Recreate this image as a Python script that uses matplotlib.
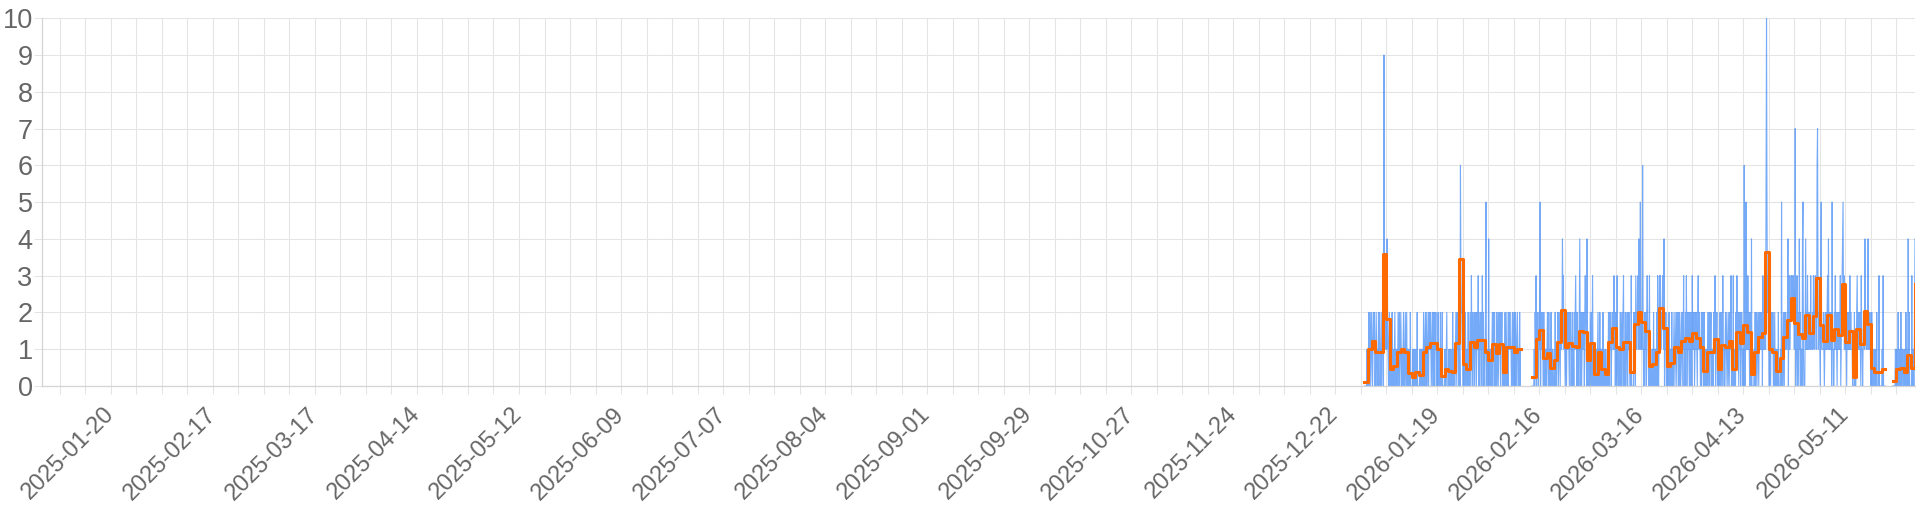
import numpy as np
import pandas as pd
import matplotlib
matplotlib.use('Agg')
import matplotlib.pyplot as plt

plt.rcParams['font.family'] = ['Liberation Sans', 'DejaVu Sans']

# x range of the chart
x_start = '2025-01-01'
x_end = '2026-05-30 03:00'
first_day = '2025-12-30'

# daily average (orange step line), one value per day from first_day, None = no data
daily_avg = [
    0.12, 1.0, 1.23, 0.92, 0.92, 3.6, 1.82, 0.46, 0.54, 0.92,
    1.0, 0.93, 0.34, 0.25, 0.37, 0.3, 0.92, 1.07, 1.16, 1.16,
    1.0, 0.28, 0.46, 0.42, 0.39, 1.18, 3.45, 0.59, 0.46, 1.2,
    1.07, 1.25, 1.25, 0.92, 0.71, 1.13, 0.89, 1.13, 0.37, 1.07,
    1.05, 0.93, 1.0, None, None, None, 0.25, 1.28, 1.52, 0.75,
    0.89, 0.5, 0.71, 1.19, 2.07, 1.05, 1.16, 1.09, 1.07, 1.5,
    1.46, 0.71, 1.16, 0.33, 0.92, 0.46, 0.33, 1.19, 1.59, 1.07,
    1.0, 1.2, 1.2, 0.37, 1.68, 2.0, 1.75, 1.5, 0.54, 0.59,
    0.93, 2.13, 1.57, 0.54, 0.63, 1.05, 0.92, 1.23, 1.3, 1.23,
    1.43, 1.31, 1.07, 0.42, 0.93, 0.93, 1.27, 0.46, 1.12, 1.07,
    1.22, 0.45, 1.48, 1.16, 1.66, 1.48, 0.33, 0.93, 1.34, 1.43,
    3.64, 1.0, 0.93, 0.42, 0.75, 1.34, 1.8, 2.38, 1.7, 1.41,
    1.3, 1.93, 1.43, 1.9, 2.95, 1.66, 1.22, 1.93, 1.25, 1.55,
    1.39, 2.77, 1.19, 1.5, 0.25, 1.55, 1.13, 2.05, 1.69, 0.48,
    0.37, 0.37, 0.46, None, None, 0.14, 0.45, 0.5, 0.37, 0.83,
    0.5, 2.77,
]

# raw readings (blue line), every 3 hours, one string per day (hex digit per reading)
readings_3h = [
    "00000010", "10201201", "21012120", "01210102", "12001201", "12094212", "21421012", "01000201", "00120100", "10210201",
    "21010120", "01201201", "00100200", "00010010", "01002000", "00100100", "10210120", "21012021", "12101220", "21021201",
    "10201102", "00020000", "01001200", "00101010", "00200100", "12102120", "21063221", "10200120", "01002010", "21031201",
    "12011201", "21302102", "12031201", "01250100", "04001010", "12021201", "10201201", "21102120", "00100200", "12010212",
    "21101202", "10202101", "21010201", "", "", "", "00000102", "13021201", "12502121", "10201101",
    "01210201", "00200100", "01020101", "12012102", "21242312", "10210212", "21021201", "12010212", "31202010", "24102012",
    "12202321", "04010100", "21020310", "00100100", "12010201", "01002010", "00100010", "21021201", "12213120", "21031001",
    "10202102", "23010201", "12021210", "00300000", "21203212", "23142151", "12162010", "21202321", "00300100", "01020101",
    "10203101", "32312223", "21402120", "01000201", "10020101", "21012102", "12002101", "21021301", "12031201", "21202120",
    "31212012", "12102311", "21010212", "00200100", "10210201", "12010102", "21301120", "01000200", "21031101", "12012101",
    "20121301", "00301000", "21312102", "12012201", "10620151", "21312102", "00400000", "10201201", "21021211", "12031211",
    "216a5231", "10210211", "12001201", "00100200", "00105000", "21021211", "12402312", "23232232", "12701130", "21041201",
    "10451000", "24121312", "12213111", "21322132", "21673122", "10351111", "21012121", "23141212", "12051100", "21312102",
    "12121301", "23452312", "12102121", "21312111", "00002000", "12312111", "21031101", "22142212", "12412121", "00201100",
    "01000200", "00300000", "01030000", "", "", "00000010", "01002010", "00201100", "01000200", "10402000",
    "00300100", "24",
]

y_ticks = list(range(0, 11))

days = pd.date_range(first_day, periods=len(daily_avg), freq='D')
avg = np.array([np.nan if v is None else v for v in daily_avg], dtype=float)

t_raw = []
v_raw = []
for day, s in zip(days, readings_3h):
    if not s:
        t_raw.append(day)
        v_raw.append(np.nan)
        continue
    for k, ch in enumerate(s):
        t_raw.append(day + pd.Timedelta(hours=3 * k))
        v_raw.append(int(ch, 16))

grid_c = '#e4e4e4'
text_c = '#666666'

fig = plt.figure(figsize=(19.2, 5.12), dpi=100)
ax = fig.add_axes([0.0217, 0.2461, 0.9757, 0.7182])

ax.plot(t_raw, v_raw, color='#3a86f7', lw=0.8, alpha=0.7, zorder=2)
ax.step(days, avg, where='post', color='#ff6a00', lw=2.2, zorder=3)

mondays = pd.date_range('2025-01-06', x_end, freq='7D')
labels = [d.strftime('%Y-%m-%d') if i % 4 == 2 else '' for i, d in enumerate(mondays)]
ax.set_xticks(mondays)
ax.set_xticklabels(labels, rotation=45, ha='right', va='center', rotation_mode='anchor')
ax.set_xlim(pd.Timestamp(x_start), pd.Timestamp(x_end))

ax.set_ylim(0, 10)
ax.set_yticks(y_ticks)

ax.grid(True, color=grid_c, lw=0.75)
ax.set_axisbelow(True)
for side in ['top', 'right']:
    ax.spines[side].set_visible(False)
for side in ['left', 'bottom']:
    ax.spines[side].set_color('#d4d4d4')
    ax.spines[side].set_linewidth(0.9)

ax.tick_params(axis='x', length=6, width=0.75, color=grid_c, pad=12,
               labelcolor=text_c, labelsize=17)
ax.tick_params(axis='y', length=6, width=0.75, color=grid_c, pad=0.5,
               labelcolor=text_c, labelsize=19.5)

fig.savefig('out.png', dpi=100)
